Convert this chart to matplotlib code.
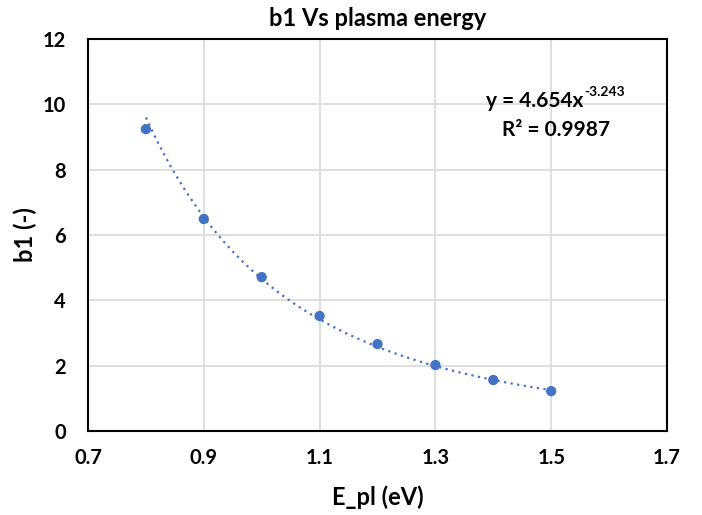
import numpy as np
import matplotlib
matplotlib.use("Agg")
import matplotlib.pyplot as plt

plt.rcParams['font.family'] = ['Lato', 'DejaVu Sans']

energy = [0.8, 0.9, 1.0, 1.1, 1.2, 1.3, 1.4, 1.5]
b1 = [9.24, 6.49, 4.71, 3.52, 2.66, 2.02, 1.56, 1.22]
fit_a = 4.654
fit_b = -3.243
r2 = 0.9987
xticks = [0.7, 0.9, 1.1, 1.3, 1.5, 1.7]
yticks = [0, 2, 4, 6, 8, 10, 12]

fig = plt.figure(figsize=(7.02, 5.15), dpi=100)
ax = fig.add_axes([88/702, 1-431/515, (667-88)/702, (431-39)/515])

xs = np.linspace(min(energy), max(energy), 200)
ax.plot(xs, fit_a * xs**fit_b, linestyle=(0, (1, 2)), color='#4472C4', linewidth=1.6, zorder=3)
ax.scatter(energy, b1, s=55, color='#4472C4', zorder=4, edgecolors='none')

ax.set_xlim(0.7, 1.7)
ax.set_ylim(0, 12)
ax.set_xticks(xticks)
ax.set_yticks(yticks)
ax.set_xticklabels([f"{v:.1f}" for v in xticks])
ax.grid(True, color='#d9d9d9', linewidth=1.2)
ax.set_axisbelow(True)
for s in ax.spines.values():
    s.set_linewidth(1.5)
    s.set_color('black')
ax.tick_params(length=0, labelsize=14.5)
ax.tick_params(axis='x', pad=12)
ax.tick_params(axis='y', pad=16)
for lab in ax.get_xticklabels() + ax.get_yticklabels():
    lab.set_fontweight('bold')

ax.set_title('b1 Vs plasma energy', fontsize=17, fontweight='bold', pad=9)
ax.set_xlabel('E_pl (eV)', fontsize=17, fontweight='bold', labelpad=13)
ax.set_ylabel('b1 (-)', fontsize=17, fontweight='bold', labelpad=4)

main = ax.text(1.388, 10.1, f'y = {fit_a}x', fontsize=15, fontweight='bold', ha='left', va='center')
fig.canvas.draw()
bb = main.get_window_extent()
xr, yc = ax.transData.inverted().transform((bb.x1, (bb.y0 + bb.y1) / 2))
ax.annotate(f'{fit_b}', xy=(xr, yc), xytext=(0.5, 2.5), textcoords='offset points',
            fontsize=10, fontweight='bold', ha='left', va='bottom')
ax.text(1.508, 9.2, f'R² = {r2}', fontsize=15, fontweight='bold', ha='center', va='center')

fig.savefig('out.png', dpi=100)
